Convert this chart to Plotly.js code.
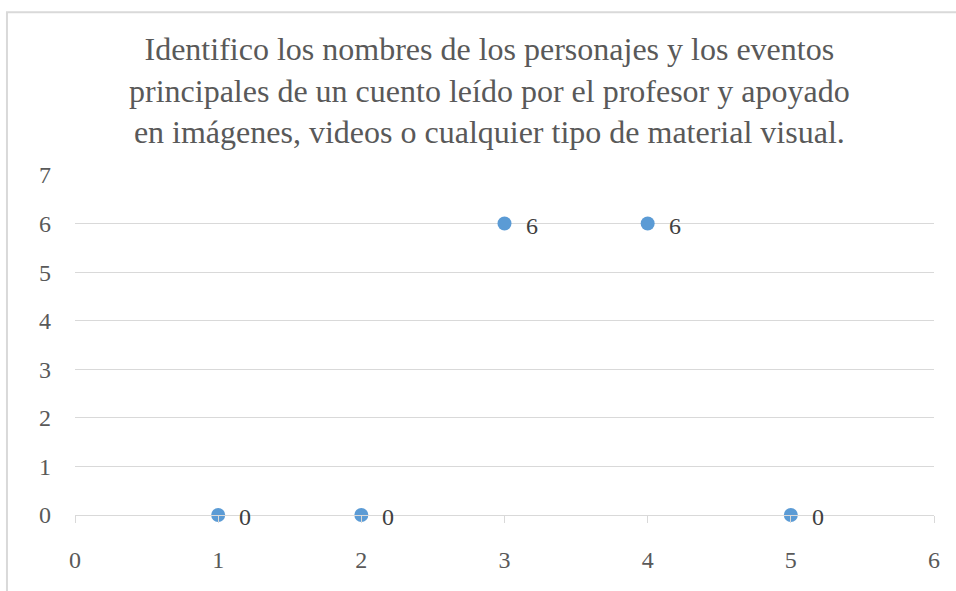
<!DOCTYPE html>
<html>
<head>
<meta charset="utf-8">
<script src="https://cdn.plot.ly/plotly-3.0.1.min.js"></script>
<style>html,body{margin:0;padding:0;background:#fff;}#chart{width:956px;height:591px;}</style>
</head>
<body>
<div id="chart"></div>
<script>
const chartTitle = "Identifico los nombres de los personajes y los eventos<br>principales de un cuento leído por el profesor y apoyado<br>en imágenes, videos o cualquier tipo de material visual.";
const xValues = [1, 2, 3, 4, 5];
const yValues = [0, 0, 6, 6, 0];
const xTicks = [0, 1, 2, 3, 4, 5, 6];
const yTicks = [0, 1, 2, 3, 4, 5, 6, 7];

const serif = "Liberation Serif";
const trace = {
  type: "scatter",
  mode: "markers",
  x: xValues,
  y: yValues,
  marker: {color: "#5b9bd5", size: 14},
  cliponaxis: false,
  hoverinfo: "x+y"
};
const labels = xValues.map((xv, i) => ({
  x: xv, y: yValues[i], xref: "x", yref: "y",
  text: String(yValues[i]), showarrow: false,
  xanchor: "left", yanchor: "middle", xshift: 19, yshift: -2,
  font: {family: serif, size: 24, color: "#404040"}
}));
labels.push({
  text: chartTitle, showarrow: false,
  xref: "paper", yref: "paper", x: 0.4831, y: 1.25,
  xanchor: "center", yanchor: "middle", align: "center",
  font: {family: serif, size: 32, color: "#595959"}
});
const layout = {
  width: 956, height: 591,
  margin: {l: 75, r: 22, t: 175, b: 76},
  paper_bgcolor: "#ffffff",
  plot_bgcolor: "#ffffff",
  showlegend: false,
  font: {family: serif, color: "#595959", size: 24},
  xaxis: {
    range: [0, 6], tickvals: xTicks, ticktext: xTicks.map(String),
    showgrid: false, zeroline: false,
    showline: true, linecolor: "#d9d9d9", linewidth: 1,
    ticks: "outside", ticklen: 7, tickcolor: "#d9d9d9",
    ticklabelstandoff: 16,
    tickfont: {family: serif, size: 24, color: "#595959"}
  },
  yaxis: {
    range: [0, 7], tickvals: yTicks, ticktext: yTicks.map(String),
    showgrid: true, gridcolor: "#d9d9d9", gridwidth: 1,
    zeroline: false, showline: false, ticks: "",
    ticklabelstandoff: 23,
    tickfont: {family: serif, size: 24, color: "#595959"}
  },
  annotations: labels,
  shapes: [{
    type: "rect", xref: "paper", yref: "paper",
    x0: -0.0792, x1: 1.2, y0: -0.5, y1: 1.479,
    line: {color: "#d9d9d9", width: 2}, fillcolor: "rgba(0,0,0,0)", layer: "below"
  }]
};
Plotly.newPlot("chart", [trace], layout, {displayModeBar: false, staticPlot: true});
</script>
</body>
</html>
